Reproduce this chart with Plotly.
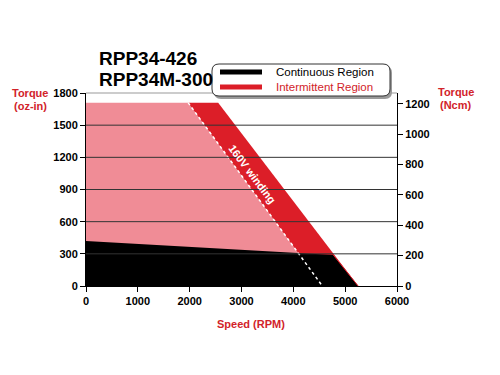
import plotly.graph_objects as go

# ---- data (speed in RPM, torque in oz-in) ----
intermittent_light_speed = [0, 0, 1970, 4560]
intermittent_light_torque = [0, 1710, 1710, 0]
intermittent_dark_speed = [1970, 2550, 5250, 4560]
intermittent_dark_torque = [1710, 1710, 0, 0]
continuous_speed = [0, 0, 4770, 5250]
continuous_torque = [0, 420, 290, 0]
winding_line_speed = [1970, 4560]
winding_line_torque = [1710, 0]
x_ticks = [0, 1000, 2000, 3000, 4000, 5000, 6000]
left_ticks = [0, 300, 600, 900, 1200, 1500, 1800]
right_ticks = [0, 200, 400, 600, 800, 1000, 1200]
OZIN_PER_NCM = 1.416

# ---- pixel geometry (screen pixels; page body has an 8px offset) ----
OFF = 8
L, R, T, B = 86, 397, 93, 286
W, H = 500, 375
def px(x, y):
    return (x - L) / (R - L), (B - y) / (B - T)

PINK = "#f08c96"
RED = "#dc1e28"
TXT_RED = "#d2232a"
FONT = "Liberation Sans, Arial, sans-serif"

fig = go.Figure()
fig.add_trace(go.Scatter(x=intermittent_light_speed, y=intermittent_light_torque, fill="toself",
                         fillcolor=PINK, mode="none", hoverinfo="skip", showlegend=False))
fig.add_trace(go.Scatter(x=intermittent_dark_speed, y=intermittent_dark_torque, fill="toself",
                         fillcolor=RED, mode="none", hoverinfo="skip", showlegend=False))
fig.add_trace(go.Scatter(x=continuous_speed, y=continuous_torque, fill="toself",
                         fillcolor="black", mode="none", hoverinfo="skip", showlegend=False))
fig.add_trace(go.Scatter(x=continuous_speed[2:], y=continuous_torque[2:], mode="lines",
                         line=dict(color=RED, width=1), hoverinfo="skip", showlegend=False))
fig.add_trace(go.Scatter(x=winding_line_speed, y=winding_line_torque, mode="lines",
                         line=dict(color="white", width=1.5, dash="dot"),
                         hoverinfo="skip", showlegend=False))

shapes = []
for t in left_ticks[1:-1]:
    shapes.append(dict(type="line", xref="paper", yref="y", x0=0, x1=1, y0=t, y1=t,
                       line=dict(color="#333333", width=1), layer="above"))
shapes.append(dict(type="line", xref="paper", yref="paper", x0=0, x1=1, y0=1, y1=1,
                   line=dict(color="#999999", width=1)))

def rrect(x0, y0, x1, y1, r):
    (a0, b0), (a1, b1) = px(x0, y0), px(x1, y1)
    rx, ry = r / (R - L), r / (B - T)
    return (f"M {a0+rx},{b0} L {a1-rx},{b0} Q {a1},{b0} {a1},{b0-ry} "
            f"L {a1},{b1+ry} Q {a1},{b1} {a1-rx},{b1} L {a0+rx},{b1} "
            f"Q {a0},{b1} {a0},{b1+ry} L {a0},{b0-ry} Q {a0},{b0} {a0+rx},{b0} Z")
shapes.append(dict(type="path", xref="paper", yref="paper", path=rrect(214, 66, 392, 99, 7),
                   fillcolor="#9a9a9a", line=dict(width=0), layer="above"))
shapes.append(dict(type="path", xref="paper", yref="paper", path=rrect(212, 64, 390, 96, 7),
                   fillcolor="white", line=dict(color="#333333", width=1), layer="above"))
for yy, col in [(72, "black"), (87, RED)]:
    (a0, b), (a1, _) = px(220, yy), px(262, yy)
    shapes.append(dict(type="line", xref="paper", yref="paper", x0=a0, x1=a1, y0=b, y1=b,
                       line=dict(color=col, width=5), layer="above"))

ann = []
def text(x, y, s, size=11, color="black", bold=False, xanchor="center", angle=0, ref="paper"):
    if ref == "paper":
        ax, ay = px(x, y)
        xr, yr = "paper", "paper"
    else:
        ax, ay = x, y
        xr, yr = "x", "y"
    ann.append(dict(x=ax, y=ay, xref=xr, yref=yr, text=s, showarrow=False,
                    xanchor=xanchor, yanchor="middle", textangle=angle,
                    font=dict(family=FONT, size=size, color=color,
                              weight="bold" if bold else "normal")))

text(97, 58, "RPP34-426", size=19, bold=True, xanchor="left")
text(97, 79, "RPP34M-300", size=19, bold=True, xanchor="left")
text(274, 72, "Continuous Region", size=11.5, xanchor="left")
text(274, 87, "Intermittent Region", size=11.5, color=TXT_RED, xanchor="left")
text(30, 93, "Torque", size=11, color=TXT_RED, bold=True)
text(30, 106, "(oz-in)", size=11, color=TXT_RED, bold=True)
text(456, 92, "Torque", size=11, color=TXT_RED, bold=True)
text(456, 105, "(Ncm)", size=11, color=TXT_RED, bold=True)
text(251, 324, "Speed (RPM)", size=11, color=TXT_RED, bold=True)
text(3205, 1043, "160V winding", size=11, color="white", bold=True, angle=53, ref="data")

tickfont = dict(family=FONT, size=11, color="black", weight="bold")
axis_common = dict(showgrid=False, zeroline=False, showline=True, linecolor="black", linewidth=1,
                   ticks="outside", ticklen=5, tickcolor="black", tickfont=tickfont,
                   fixedrange=True, automargin=False)
fig.update_layout(
    width=W, height=H,
    margin=dict(l=L - OFF, r=W - (R - OFF), t=T - OFF, b=H - (B - OFF), autoexpand=False),
    plot_bgcolor="white", paper_bgcolor="white", showlegend=False,
    shapes=shapes, annotations=ann,
    xaxis=dict(range=[0, 6000], tickvals=x_ticks, **axis_common),
    yaxis=dict(range=[0, 1800], tickvals=left_ticks, **axis_common),
    yaxis2=dict(range=[0, 1800 / OZIN_PER_NCM], tickvals=right_ticks, overlaying="y", side="right",
                **axis_common),
)
fig.add_trace(go.Scatter(x=[None], y=[None], yaxis="y2", showlegend=False))
fig.write_html("out.html")
